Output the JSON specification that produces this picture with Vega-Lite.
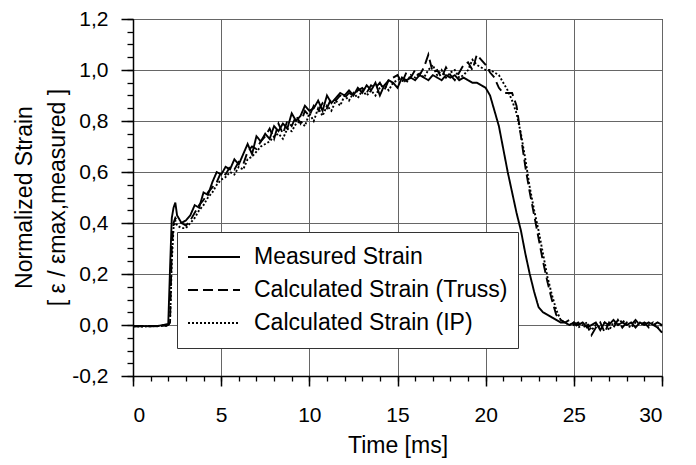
{
  "$schema": "https://vega.github.io/schema/vega-lite/v6.json",
  "width": 529,
  "height": 357,
  "autosize": {"type": "none"},
  "padding": {"left": 133, "top": 19, "right": 34, "bottom": 89},
  "background": "white",
  "config": {
    "font": "Liberation Sans",
    "locale": {"number": {"decimal": ",", "thousands": ".", "grouping": [3], "currency": ["", " €"], "minus": "-"}},
    "view": {"stroke": "black", "strokeWidth": 1},
    "axis": {
      "labelFont": "Liberation Sans",
      "titleFont": "Liberation Sans",
      "labelColor": "black",
      "titleColor": "black",
      "domainColor": "black",
      "tickColor": "black",
      "gridColor": "#666666",
      "gridWidth": 1,
      "titleFontWeight": "normal",
      "labelFontWeight": "normal"
    }
  },
  "data": {
    "values": [
      {"t": 0, "Measured": -0.005, "Truss": -0.005, "IP": -0.005},
      {"t": 0.5, "Measured": -0.004, "Truss": -0.005, "IP": -0.006},
      {"t": 1, "Measured": -0.005, "Truss": -0.004, "IP": -0.005},
      {"t": 1.5, "Measured": -0.003, "Truss": -0.005, "IP": -0.004},
      {"t": 1.9, "Measured": 0.003, "Truss": -0.002, "IP": -0.003},
      {"t": 2.0, "Measured": 0.005, "Truss": 0.0, "IP": 0.0},
      {"t": 2.1, "Measured": 0.22, "Truss": 0.01, "IP": 0.01},
      {"t": 2.2, "Measured": 0.42, "Truss": 0.30, "IP": 0.25},
      {"t": 2.3, "Measured": 0.46, "Truss": 0.40, "IP": 0.38},
      {"t": 2.4, "Measured": 0.48, "Truss": 0.42, "IP": 0.41},
      {"t": 2.5, "Measured": 0.43, "Truss": 0.41, "IP": 0.39},
      {"t": 2.75, "Measured": 0.40, "Truss": 0.40, "IP": 0.38},
      {"t": 3.0, "Measured": 0.41, "Truss": 0.39, "IP": 0.38},
      {"t": 3.25, "Measured": 0.43, "Truss": 0.41, "IP": 0.40},
      {"t": 3.5, "Measured": 0.47, "Truss": 0.44, "IP": 0.42},
      {"t": 3.75, "Measured": 0.46, "Truss": 0.47, "IP": 0.45},
      {"t": 4.0, "Measured": 0.52, "Truss": 0.49, "IP": 0.47},
      {"t": 4.25, "Measured": 0.51, "Truss": 0.52, "IP": 0.50},
      {"t": 4.5, "Measured": 0.56, "Truss": 0.54, "IP": 0.52},
      {"t": 4.75, "Measured": 0.60, "Truss": 0.56, "IP": 0.55},
      {"t": 5.0, "Measured": 0.59, "Truss": 0.60, "IP": 0.57},
      {"t": 5.25, "Measured": 0.62, "Truss": 0.59, "IP": 0.58},
      {"t": 5.5, "Measured": 0.61, "Truss": 0.62, "IP": 0.60},
      {"t": 5.75, "Measured": 0.65, "Truss": 0.61, "IP": 0.59},
      {"t": 6.0, "Measured": 0.63, "Truss": 0.64, "IP": 0.62},
      {"t": 6.25, "Measured": 0.67, "Truss": 0.63, "IP": 0.61},
      {"t": 6.5, "Measured": 0.71, "Truss": 0.68, "IP": 0.65},
      {"t": 6.75, "Measured": 0.67, "Truss": 0.70, "IP": 0.66},
      {"t": 7.0, "Measured": 0.74, "Truss": 0.69, "IP": 0.68},
      {"t": 7.25, "Measured": 0.72, "Truss": 0.72, "IP": 0.70},
      {"t": 7.5, "Measured": 0.75, "Truss": 0.74, "IP": 0.71},
      {"t": 7.75, "Measured": 0.73, "Truss": 0.77, "IP": 0.72},
      {"t": 8.0, "Measured": 0.78, "Truss": 0.73, "IP": 0.74},
      {"t": 8.25, "Measured": 0.76, "Truss": 0.79, "IP": 0.75},
      {"t": 8.5, "Measured": 0.79, "Truss": 0.75, "IP": 0.73},
      {"t": 8.75, "Measured": 0.77, "Truss": 0.80, "IP": 0.77},
      {"t": 9.0, "Measured": 0.83, "Truss": 0.78, "IP": 0.76},
      {"t": 9.25, "Measured": 0.80, "Truss": 0.82, "IP": 0.79},
      {"t": 9.5, "Measured": 0.82, "Truss": 0.79, "IP": 0.80},
      {"t": 9.75, "Measured": 0.86, "Truss": 0.84, "IP": 0.78},
      {"t": 10.0, "Measured": 0.84, "Truss": 0.82, "IP": 0.83},
      {"t": 10.25, "Measured": 0.85, "Truss": 0.86, "IP": 0.80},
      {"t": 10.5, "Measured": 0.88, "Truss": 0.84, "IP": 0.85},
      {"t": 10.75, "Measured": 0.84, "Truss": 0.87, "IP": 0.82},
      {"t": 11.0, "Measured": 0.90, "Truss": 0.85, "IP": 0.86},
      {"t": 11.25, "Measured": 0.87, "Truss": 0.89, "IP": 0.84},
      {"t": 11.5, "Measured": 0.89, "Truss": 0.88, "IP": 0.88},
      {"t": 11.75, "Measured": 0.91, "Truss": 0.90, "IP": 0.86},
      {"t": 12.0, "Measured": 0.90, "Truss": 0.89, "IP": 0.90},
      {"t": 12.25, "Measured": 0.92, "Truss": 0.91, "IP": 0.88},
      {"t": 12.5, "Measured": 0.90, "Truss": 0.90, "IP": 0.91},
      {"t": 12.75, "Measured": 0.93, "Truss": 0.92, "IP": 0.89},
      {"t": 13.0, "Measured": 0.91, "Truss": 0.93, "IP": 0.92},
      {"t": 13.25, "Measured": 0.94, "Truss": 0.91, "IP": 0.90},
      {"t": 13.5, "Measured": 0.92, "Truss": 0.94, "IP": 0.92},
      {"t": 13.75, "Measured": 0.95, "Truss": 0.93, "IP": 0.90},
      {"t": 14.0, "Measured": 0.90, "Truss": 0.95, "IP": 0.93},
      {"t": 14.25, "Measured": 0.94, "Truss": 0.92, "IP": 0.94},
      {"t": 14.5, "Measured": 0.96, "Truss": 0.96, "IP": 0.92},
      {"t": 14.75, "Measured": 0.95, "Truss": 0.97, "IP": 0.95},
      {"t": 15.0, "Measured": 0.93, "Truss": 0.98, "IP": 0.96},
      {"t": 15.25, "Measured": 0.97, "Truss": 0.95, "IP": 0.97},
      {"t": 15.5, "Measured": 0.96, "Truss": 0.99, "IP": 0.95},
      {"t": 15.75, "Measured": 0.97, "Truss": 0.97, "IP": 0.98},
      {"t": 16.0, "Measured": 0.96, "Truss": 1.00, "IP": 0.97},
      {"t": 16.25, "Measured": 0.98, "Truss": 0.98, "IP": 0.99},
      {"t": 16.5, "Measured": 0.97, "Truss": 1.01, "IP": 0.97},
      {"t": 16.75, "Measured": 0.96, "Truss": 1.06, "IP": 1.00},
      {"t": 17.0, "Measured": 0.98, "Truss": 0.99, "IP": 1.02},
      {"t": 17.25, "Measured": 0.97, "Truss": 1.00, "IP": 0.98},
      {"t": 17.5, "Measured": 0.96, "Truss": 0.97, "IP": 1.00},
      {"t": 17.75, "Measured": 0.98, "Truss": 1.01, "IP": 0.97},
      {"t": 18.0, "Measured": 0.97, "Truss": 0.98, "IP": 0.99},
      {"t": 18.25, "Measured": 0.98, "Truss": 0.96, "IP": 1.00},
      {"t": 18.5, "Measured": 0.96, "Truss": 0.99, "IP": 0.97},
      {"t": 18.75, "Measured": 0.97, "Truss": 1.02, "IP": 0.98},
      {"t": 19.0, "Measured": 0.96, "Truss": 1.03, "IP": 1.00},
      {"t": 19.25, "Measured": 0.95, "Truss": 1.00, "IP": 1.04},
      {"t": 19.5, "Measured": 0.95, "Truss": 1.06, "IP": 1.02},
      {"t": 19.75, "Measured": 0.94, "Truss": 1.04, "IP": 1.01},
      {"t": 20.0, "Measured": 0.93, "Truss": 1.02, "IP": 1.00},
      {"t": 20.25, "Measured": 0.90, "Truss": 0.99, "IP": 1.00},
      {"t": 20.5, "Measured": 0.84, "Truss": 0.97, "IP": 0.99},
      {"t": 20.75, "Measured": 0.78, "Truss": 0.93, "IP": 0.98},
      {"t": 21.0, "Measured": 0.69, "Truss": 0.91, "IP": 0.95},
      {"t": 21.25, "Measured": 0.60, "Truss": 0.91, "IP": 0.92},
      {"t": 21.5, "Measured": 0.52, "Truss": 0.91, "IP": 0.88},
      {"t": 21.75, "Measured": 0.44, "Truss": 0.86, "IP": 0.83},
      {"t": 22.0, "Measured": 0.37, "Truss": 0.74, "IP": 0.75},
      {"t": 22.25, "Measured": 0.28, "Truss": 0.62, "IP": 0.65},
      {"t": 22.5, "Measured": 0.20, "Truss": 0.52, "IP": 0.54},
      {"t": 22.75, "Measured": 0.13, "Truss": 0.43, "IP": 0.45},
      {"t": 23.0, "Measured": 0.07, "Truss": 0.34, "IP": 0.37},
      {"t": 23.25, "Measured": 0.05, "Truss": 0.25, "IP": 0.28},
      {"t": 23.5, "Measured": 0.04, "Truss": 0.17, "IP": 0.19},
      {"t": 23.75, "Measured": 0.03, "Truss": 0.10, "IP": 0.12},
      {"t": 24.0, "Measured": 0.02, "Truss": 0.04, "IP": 0.06},
      {"t": 24.25, "Measured": 0.01, "Truss": 0.02, "IP": 0.02},
      {"t": 24.5, "Measured": 0.01, "Truss": 0.01, "IP": 0.01},
      {"t": 24.75, "Measured": 0.0, "Truss": 0.02, "IP": 0.0},
      {"t": 25.0, "Measured": 0.01, "Truss": 0.0, "IP": 0.01},
      {"t": 25.25, "Measured": 0.0, "Truss": 0.01, "IP": -0.01},
      {"t": 25.5, "Measured": 0.01, "Truss": -0.01, "IP": 0.0},
      {"t": 25.75, "Measured": -0.01, "Truss": 0.0, "IP": 0.01},
      {"t": 26.0, "Measured": 0.0, "Truss": -0.04, "IP": -0.02},
      {"t": 26.25, "Measured": 0.01, "Truss": -0.01, "IP": 0.0},
      {"t": 26.5, "Measured": -0.02, "Truss": 0.01, "IP": -0.01},
      {"t": 26.75, "Measured": 0.01, "Truss": -0.03, "IP": 0.01},
      {"t": 27.0, "Measured": 0.0, "Truss": 0.01, "IP": -0.02},
      {"t": 27.25, "Measured": 0.02, "Truss": -0.01, "IP": 0.01},
      {"t": 27.5, "Measured": 0.0, "Truss": 0.02, "IP": 0.0},
      {"t": 27.75, "Measured": 0.01, "Truss": -0.01, "IP": 0.02},
      {"t": 28.0, "Measured": 0.0, "Truss": 0.01, "IP": 0.0},
      {"t": 28.25, "Measured": 0.01, "Truss": 0.0, "IP": -0.01},
      {"t": 28.5, "Measured": -0.01, "Truss": 0.02, "IP": 0.01},
      {"t": 28.75, "Measured": 0.01, "Truss": 0.0, "IP": 0.0},
      {"t": 29.0, "Measured": 0.0, "Truss": 0.01, "IP": 0.01},
      {"t": 29.25, "Measured": 0.01, "Truss": -0.01, "IP": 0.0},
      {"t": 29.5, "Measured": 0.0, "Truss": 0.0, "IP": 0.01},
      {"t": 29.75, "Measured": -0.01, "Truss": 0.01, "IP": -0.01},
      {"t": 30.0, "Measured": -0.03, "Truss": 0.0, "IP": 0.0}
    ]
  },
  "transform": [
    {"fold": ["Measured", "Truss", "IP"], "as": ["series", "value"]}
  ],
  "layer": [
    {
      "mark": {"type": "point", "opacity": 0},
      "encoding": {
        "x": {
          "field": "t", "type": "quantitative",
          "scale": {"domain": [0, 30], "nice": false, "zero": false},
          "axis": {"orient": "bottom", "values": [0,1,2,3,4,5,6,7,8,9,10,11,12,13,14,15,16,17,18,19,20,21,22,23,24,25,26,27,28,29,30],
                   "labels": false, "grid": false, "domain": false, "title": null, "tickSize": 5, "tickWidth": 1.3}
        },
        "y": {
          "field": "value", "type": "quantitative",
          "scale": {"domain": [-0.2, 1.2], "nice": false, "zero": false},
          "axis": {"orient": "left", "values": [-0.2,-0.15,-0.1,-0.05,0,0.05,0.1,0.15,0.2,0.25,0.3,0.35,0.4,0.45,0.5,0.55,0.6,0.65,0.7,0.75,0.8,0.85,0.9,0.95,1.0,1.05,1.1,1.15,1.2],
                   "labels": false, "grid": false, "domain": false, "title": null, "tickSize": 6, "tickWidth": 1.3}
        }
      }
    },
    {
      "mark": {"type": "line", "color": "black", "strokeWidth": 1.9},
      "encoding": {
        "x": {
          "field": "t", "type": "quantitative",
          "scale": {"domain": [0, 30], "nice": false, "zero": false},
          "axis": {"orient": "bottom", "values": [0, 5, 10, 15, 20, 25, 30], "format": "d", "grid": true,
                   "title": "Time [ms]", "titleFontSize": 23, "labelFontSize": 21,
                   "tickSize": 10, "tickWidth": 1.5, "domainWidth": 1.5, "labelPadding": 18,
                   "titleX": 264.5, "titleY": 58, "titleBaseline": "top"}
        },
        "y": {
          "field": "value", "type": "quantitative",
          "scale": {"domain": [-0.2, 1.2], "nice": false, "zero": false},
          "axis": {"orient": "left", "values": [-0.2, 0, 0.2, 0.4, 0.6, 0.8, 1.0, 1.2], "format": ".1f", "grid": true,
                   "title": ["Normalized Strain", "[ ε / εmax,measured ]"], "titleFontSize": 23, "titleLineHeight": 33,
                   "labelFontSize": 21, "tickSize": 12, "tickWidth": 1.5, "domainWidth": 1.5, "labelPadding": 13,
                   "titleX": -97, "titleY": 178, "titleBaseline": "bottom", "titleAngle": 270}
        },
        "strokeDash": {
          "field": "series", "type": "nominal",
          "scale": {"domain": ["Measured", "Truss", "IP"], "range": [[1, 0], [10, 5], [2, 2]]},
          "legend": {
            "title": null, "orient": "none", "legendX": 44, "legendY": 213,
            "fillColor": "white", "strokeColor": "#333333", "padding": 10,
            "symbolType": "stroke", "symbolSize": 2704, "symbolStrokeWidth": 2, "symbolStrokeColor": "black",
            "labelFontSize": 23, "labelFont": "Liberation Sans", "labelColor": "black", "labelOffset": 13,
            "clipHeight": 30, "rowPadding": 3, "labelLimit": 400,
            "labelExpr": "datum.label == 'Measured' ? 'Measured Strain' : datum.label == 'Truss' ? 'Calculated Strain (Truss)' : 'Calculated Strain (IP)'"
          }
        }
      }
    }
  ],
  "resolve": {"axis": {"x": "independent", "y": "independent"}}
}
